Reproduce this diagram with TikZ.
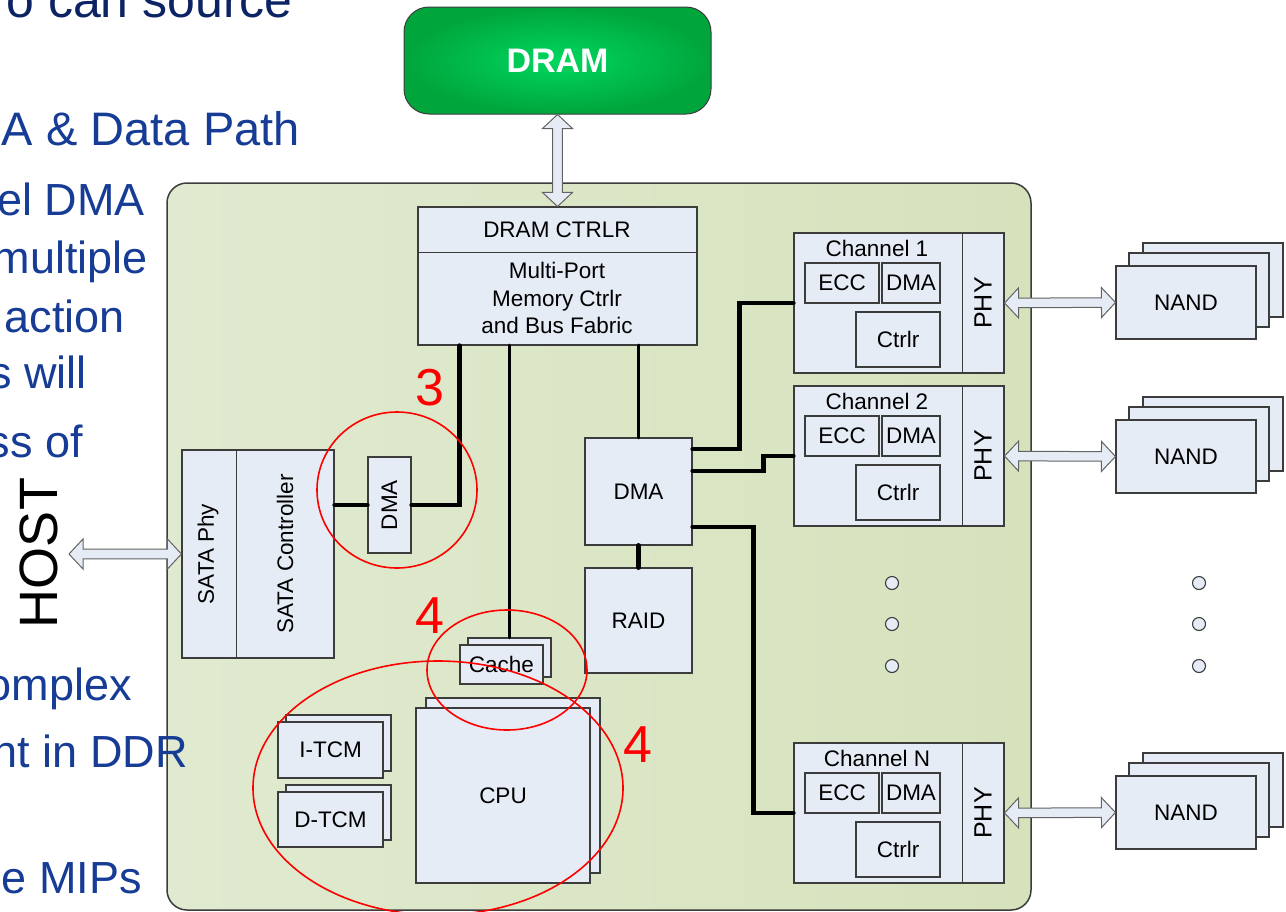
\documentclass[tikz,border=0pt]{standalone}
\usepackage{fontspec}
\setmainfont{Liberation Sans}
\usepackage{graphicx}
\usetikzlibrary{calc,fit,shadings}
\definecolor{boxfill}{RGB}{230,236,246}
\definecolor{panelL}{RGB}{224,234,208}
\definecolor{panelR}{RGB}{214,226,188}
\definecolor{slideblue}{RGB}{22,60,150}
\definecolor{navy}{RGB}{12,36,100}
\definecolor{dramin}{RGB}{0,215,95}
\definecolor{dramout}{RGB}{0,165,60}
\definecolor{edge}{RGB}{60,60,60}
\newcommand\boxfont{\fontsize{22.5}{27.5}\selectfont}
\newcommand\arrH{14pt}
\newcommand\arrW{15pt}
\newcommand\arrS{4.8pt}
\newcommand\blockarrow[2]{%
 \draw[barrow] (#1) -- ($(#1)!\arrH!(#2)!\arrW!90:(#2)$) -- ($(#1)!\arrH!(#2)!\arrS!90:(#2)$)
  -- ($(#2)!\arrH!(#1)!\arrS!-90:(#1)$) -- ($(#2)!\arrH!(#1)!\arrW!-90:(#1)$) -- (#2)
  -- ($(#2)!\arrH!(#1)!\arrW!90:(#1)$) -- ($(#2)!\arrH!(#1)!\arrS!90:(#1)$)
  -- ($(#1)!\arrH!(#2)!\arrS!-90:(#2)$) -- ($(#1)!\arrH!(#2)!\arrW!-90:(#2)$) -- cycle;}
\newcommand\channel[3]{%
 \node[box, fit={(794,#2)(1004,#2+140)}] (#1) {};
 \draw[edge, line width=1.1pt] ($(#1.north east)+(-42,0)$) -- ($(#1.south east)+(-42,0)$);
 \node[lbl] (#1-lbl) at (877,#2+15) {#3};
 \node[box, fit={(805,#2+30)(879,#2+70)}] (#1-ecc) {};
 \node[lbl] at (#1-ecc.center) {ECC};
 \node[box, fit={(882,#2+30)(940,#2+70)}] (#1-dma) {};
 \node[lbl] at (#1-dma.center) {DMA};
 \node[box, fit={(856,#2+79)(940,#2+134)}] (#1-ctl) {};
 \node[lbl] at (#1-ctl.center) {Ctrlr};
 \node[lbl, rotate=90, font=\fontsize{25}{30}\selectfont] (#1-phy) at (983,#2+70) {PHY};}
\newcommand\nandstack[2]{%
 \node[box, fit={(1143,#2-23)(1283,#2+51)}] (#1-b) {};
 \node[box, fit={(1129,#2-13)(1269,#2+61)}] (#1-m) {};
 \node[box, fit={(1116,#2)(1256,#2+73)}] (#1) {};
 \node[lbl] at (#1.center) {NAND};}
\begin{document}
\begin{tikzpicture}[x=1pt,y=-1pt,
  box/.style={draw=edge, fill=boxfill, line width=1.1pt, inner sep=0pt},
  lbl/.style={font=\boxfont, inner sep=0pt},
  bus/.style={line width=4.5pt, line cap=round},
  ring/.style={draw=red, line width=1.6pt},
  redno/.style={text=red, font=\fontsize{52}{56}\selectfont, inner sep=0pt},
  slide/.style={anchor=base east, inner sep=0pt, text=slideblue, font=\fontsize{45}{50}\selectfont},
  barrow/.style={draw=edge!80, fill=boxfill, line width=1pt},
  dotc/.style={circle, draw=edge, fill=boxfill, minimum size=13pt, inner sep=0pt, line width=1.1pt}]
\useasboundingbox (0,0) rectangle (1286,911);
\clip (0,0) rectangle (1286,911);
\fill[white] (0,0) rectangle (1286,911);
% panel
\path[draw=edge, line width=1.5pt, left color=panelL, right color=panelR, rounded corners=20]
  (167,183) rectangle (1031,910);
% DRAM
\node[draw=edge, line width=1pt, rounded corners=25, inner color=dramin, outer color=dramout,
  fit={(404,7)(711,114)}, inner sep=0pt] (dram) {};
\node[text=white, inner sep=0pt, font=\fontsize{34}{40}\selectfont\bfseries] at (dram.center) {DRAM};
% DRAM controller
\node[box, fit={(418,207)(697,345)}] (ctrl) {};
\draw[edge, line width=1.1pt] ($(ctrl.north west)+(0,46)$) -- ($(ctrl.north east)+(0,46)$);
\node[lbl] (ctrlt) at (557,230) {DRAM CTRLR};
\node[lbl, align=center] (ctrlb) at (557,298) {Multi-Port\\Memory Ctrlr\\and Bus Fabric};
\blockarrow{dram.south}{ctrl.north}
% SATA
\node[box, fit={(182,450)(334,658)}] (sata) {};
\draw[edge, line width=1.1pt] ($(sata.north west)+(55,0)$) -- ($(sata.south west)+(55,0)$);
\node[lbl, rotate=90] (sataphy) at (208,554) {SATA Phy};
\node[lbl, rotate=90] (satactl) at (285,554) {SATA Controller};
\coordinate (hosttip) at (69,554);
\blockarrow{hosttip}{sata.west}
% small DMA
\node[box, fit={(368,457)(411,553)}] (sdma) {};
\node[lbl, rotate=90] at (sdma.center) {DMA};
% DMA / RAID
\node[box, fit={(585,438)(692,545)}] (dma) {};
\node[lbl] at (dma.center) {DMA};
\node[box, fit={(585,568)(692,673)}] (raid) {};
\node[lbl] at (raid.center) {RAID};
% Cache, CPU, TCMs
\node[box, fit={(468,638)(551,677)}] (cacheb) {};
\node[box, fit={(460,645)(543,684)}] (cache) {};
\node[lbl] at (cache.center) {Cache};
\node[box, fit={(426,698)(600,873)}] (cpub) {};
\node[box, fit={(416,708)(590,883)}] (cpu) {};
\node[lbl] at (cpu.center) {CPU};
\node[box, fit={(286,715)(391,771)}] (itcmb) {};
\node[box, fit={(278,722)(383,778)}] (itcm) {};
\node[lbl] at (itcm.center) {I-TCM};
\node[box, fit={(286,785)(391,840)}] (dtcmb) {};
\node[box, fit={(278,792)(383,847)}] (dtcm) {};
\node[lbl] at (dtcm.center) {D-TCM};
% channels
\channel{ch1}{233}{Channel 1}
\channel{ch2}{386}{Channel 2}
\channel{chN}{743}{Channel N}
\nandstack{nand1}{266}
\nandstack{nand2}{420}
\nandstack{nandN}{776}
\blockarrow{ch1.east}{nand1.west}
\blockarrow{ch2.east}{nand2.west}
\blockarrow{chN.east}{nandN.west}
% dots
\node[dotc] (da1) at (892,583) {};
\node[dotc] (da2) at (892,624) {};
\node[dotc] (da3) at (892,666) {};
\node[dotc] (db1) at (1199,583) {};
\node[dotc] (db2) at (1199,624) {};
\node[dotc] (db3) at (1199,666) {};
% buses
\draw[bus] ($(ctrl.south west)+(42,0)$) |- (sdma.east);
\draw[bus] (sata.east |- sdma.west) -- (sdma.west);
\draw[bus, line width=3.8pt] (ctrl.south -| cacheb.north) -- (cacheb.north);
\draw[bus, line width=3.8pt] (ctrl.south -| dma.north) -- (dma.north);
\draw[bus, line width=5pt] (dma.south) -- (raid.north);
\draw[bus] ($(dma.east)+(0,-42.5)$) -- ++(47,0) |- (ch1.west);
\draw[bus] ($(dma.east)+(0,-20.5)$) -- ++(71,0) |- (ch2.west);
\draw[bus] ($(dma.east)+(0,35.5)$) -- ++(61,0) |- (chN.west);
% red annotations
\draw[ring] (397,490) ellipse [x radius=80, y radius=78];
\draw[ring] (507,670) ellipse [x radius=80, y radius=60];
\draw[ring] (438,788) ellipse [x radius=185, y radius=127];
\node[redno] (n3) at (430,388) {3};
\node[redno] (n4a) at (430,616) {4};
\node[redno] (n4b) at (638,745) {4};
% slide text
\node[slide, text=navy, font=\fontsize{50}{56}\selectfont] (t0) at (293,17) {o can source};
\node[slide, font=\fontsize{47}{52}\selectfont] (t1) at (300,145) {A \& Data Path};
\node[slide] (t2) at (145,215) {el DMA};
\node[slide] (t3) at (148,273) {multiple};
\node[slide] (t4) at (125,332) {action};
\node[slide] (t5) at (87,388) {s will};
\node[slide] (t6) at (83,457) {ss of};
\node[slide] (t7) at (132,700) {omplex};
\node[slide] (t8) at (188,767) {nt in DDR};
\node[slide] (t9) at (142,893) {e MIPs};
\node[rotate=90, inner sep=0pt, font=\fontsize{54}{60}\selectfont] (host) at (39,553) {HOST};
\end{tikzpicture}
\end{document}
